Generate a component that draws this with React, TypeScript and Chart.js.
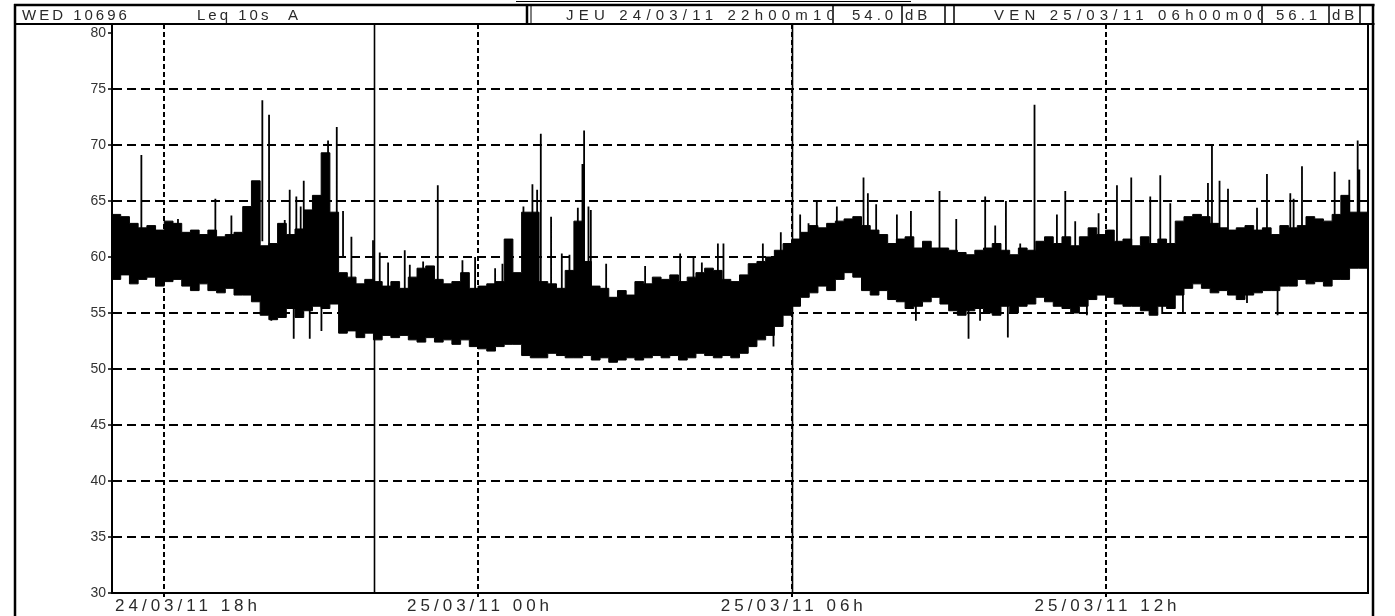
import React, { useEffect, useRef } from "react";
import { Chart, registerables } from "chart.js";

Chart.register(...registerables);

// ---- axes ----
const X_MIN = 0; // minutes after 24/03/11 17:00
const X_MAX = 1440;
const Y_MIN = 30;
const Y_MAX = 80.8;
const yTickValues = [30, 35, 40, 45, 50, 55, 60, 65, 70, 75, 80];
const xTickMinutes = [60, 420, 780, 1140];
const xTickLabels = ["24/03/11 18h", "25/03/11 00h", "25/03/11 06h", "25/03/11 12h"];
const cursorMinutes = [300.17, 780];

// ---- header ----
const headerId = "WED 10696";
const headerMeasure = "Leq 10s";
const headerWeighting = "A";
const cursor1Label = "JEU 24/03/11 22h00m10";
const cursor1Value = "54.0";
const cursor2Label = "VEN 25/03/11 06h00m00";
const cursor2Value = "56.1";
const unitLabel = "dB";

// ---- Leq 10s trace, 10-minute bins: upper / lower edge of the dense band (dB) ----
const bandHigh = [
  63.2, 63.8, 63.6, 63.0, 62.6, 62.8, 62.4, 63.2, 63.0, 62.2,
  62.4, 62.0, 62.4, 61.8, 62.0, 62.2, 64.5, 66.8, 61.0, 61.2,
  63.0, 62.0, 62.5, 64.2, 65.5, 69.3, 64.0, 58.6, 58.2, 57.6,
  58.0, 57.8, 57.4, 57.8, 57.2, 58.2,
  59.0, 59.2, 58.0, 57.6, 57.8, 58.6, 57.2, 57.4, 57.6, 57.8,
  61.6, 58.6, 64.0, 64.0, 57.8, 57.6, 57.2, 58.8, 63.2, 59.6,
  57.4, 57.2, 56.4, 57.0, 56.6, 57.8, 57.6, 58.2, 58.0, 58.4,
  57.8, 58.2, 58.6, 59.0, 58.8, 58.0,
  57.8, 58.4, 59.4, 59.6, 60.0, 60.6, 61.2, 61.6, 62.2, 62.8,
  62.6, 63.0, 63.2, 63.4, 63.6, 62.8, 62.4, 62.0, 61.2, 61.6,
  61.8, 60.8, 61.4, 60.8, 60.8, 60.6, 60.4, 60.2, 60.6, 60.8,
  61.2, 60.6, 60.2, 60.8, 60.6, 61.4,
  61.8, 61.2, 61.8, 61.0, 61.8, 62.6, 62.0, 62.4, 61.4, 61.6,
  61.0, 61.8, 61.2, 61.6, 61.2, 63.2, 63.6, 63.8, 63.6, 63.0,
  62.6, 62.4, 62.6, 62.8, 62.4, 62.6, 62.0, 62.8, 62.6, 62.8,
  63.6, 63.4, 63.2, 63.8, 65.5, 64.0,
];
const bandLow = [
  58.5, 58.0, 58.4, 57.6, 58.0, 58.2, 57.4, 57.8, 58.0, 57.4,
  57.0, 57.6, 57.0, 56.8, 57.2, 56.6, 56.6, 56.0, 54.8, 54.4,
  54.6, 55.4, 54.6, 55.2, 55.6, 55.4, 55.8, 53.2, 53.4, 52.8,
  53.2, 52.6, 53.0, 52.8, 53.0, 52.6,
  52.4, 52.8, 52.4, 52.6, 52.2, 52.6, 52.0, 51.8, 51.6, 52.0,
  52.2, 52.2, 51.2, 51.0, 51.0, 51.4, 51.2, 51.0, 51.0, 51.2,
  50.8, 51.0, 50.6, 50.8, 51.0, 50.8, 51.0, 51.2, 51.0, 51.2,
  50.8, 51.0, 51.4, 51.2, 51.0, 51.2,
  51.0, 51.4, 52.0, 52.6, 53.0, 53.8, 54.8, 55.6, 56.4, 56.8,
  57.4, 57.0, 58.0, 58.6, 58.2, 57.0, 56.6, 57.0, 56.2, 56.0,
  55.4, 55.6, 56.0, 56.4, 55.8, 55.2, 54.8, 55.2, 55.4, 55.0,
  54.8, 55.6, 55.0, 55.6, 55.8, 56.4,
  56.0, 55.6, 55.4, 55.0, 55.6, 56.2, 56.6, 56.4, 55.8, 55.6,
  55.6, 55.2, 54.8, 55.6, 55.4, 56.6, 57.2, 57.6, 57.2, 56.8,
  57.0, 56.6, 56.2, 56.6, 56.8, 57.0, 57.0, 57.4, 57.4, 58.0,
  57.6, 57.8, 57.4, 58.0, 58.0, 59.0,
];
const BIN_MINUTES = 10;

// ---- isolated peaks (minute, dB) ----
const peakMinutes = [
  33.7, 75.7, 118.6, 137, 172.5, 180.2, 191.7, 198.2, 203.9, 211.5, 216.5, 220, 234.5, 247.9, 257.9,
  265.1, 274.7, 299.5, 307.2, 316.8, 335.9, 341.7, 357,
  373.8, 402.1, 416.6, 439.6, 448, 456.8, 472.1, 482.4, 487.8, 492, 503.8, 516.1, 524.9, 534.5,
  539.8, 541.7, 546.7, 549.4, 567, 611.7, 651.9, 667.2, 676.8, 695.2, 701.6,
  746.8, 767.4, 789.6, 799.2, 808.7, 831.7, 862.3, 867.3, 876.8, 900.6, 916.7, 949.5, 968.7,
  1001.9, 1013.4, 1025.7, 1042.1, 1058.5, 1084.2,
  1093.8, 1105.2, 1132, 1153.1, 1169.5, 1191.3, 1202.8, 1214.3, 1257.5, 1262.1, 1270.8, 1280.5,
  1313.8, 1325.2, 1352, 1355.8, 1365.4, 1402.9, 1419.7, 1429.3, 1431.2,
];
const peakValues = [
  69.1, 63.4, 65.2, 63.7, 74.0, 72.7, 62.7, 63.3, 66.0, 65.4, 64.5, 66.8, 65.0, 70.4, 71.6,
  64.1, 61.8, 61.5, 60.4, 59.5, 60.6, 59.3, 59.6,
  66.4, 59.7, 60.0, 59.0, 59.4, 59.2, 64.5, 66.5, 66.0, 71.0, 63.6, 60.3, 60.2, 64.4,
  68.3, 71.3, 64.5, 64.2, 59.4, 59.2, 60.3, 59.9, 59.5, 61.2, 61.2,
  61.2, 62.2, 63.8, 63.0, 65.0, 64.5, 67.1, 65.7, 64.7, 63.8, 64.1, 65.9, 63.4,
  65.4, 62.8, 65.0, 61.2, 73.6, 63.8,
  65.9, 63.2, 63.9, 66.4, 67.1, 65.4, 67.3, 64.8, 66.6, 69.9, 66.8, 66.1,
  64.4, 67.4, 65.7, 65.2, 68.1, 67.6, 66.9, 70.4, 67.8,
];

// ---- isolated dips (minute, dB) ----
const dipMinutes = [182.8, 208.5, 226.9, 240.3, 759, 922.4, 982.8, 996, 1027.9, 1118.6, 1205, 1228.8, 1302.3, 1337.4];
const dipValues = [54.3, 52.7, 52.7, 53.4, 52.0, 54.3, 52.7, 54.3, 52.8, 54.8, 54.9, 54.9, 55.9, 54.8];

const FONT = '"Liberation Sans", Arial, sans-serif';

function binOf(t: number) {
  return Math.max(0, Math.min(bandHigh.length - 1, Math.floor(t / BIN_MINUTES)));
}

const framePlugin = {
  id: "frame",
  afterDatasetsDraw(chart: any) {
    const { ctx, chartArea: ca } = chart;
    const xs = chart.scales.x;
    ctx.save();
    ctx.strokeStyle = "#000";
    ctx.lineCap = "butt";
    ctx.lineWidth = 1.6;
    cursorMinutes.forEach((m) => {
      const px = Math.round(xs.getPixelForValue(m)) + 0.5;
      ctx.beginPath();
      ctx.moveTo(px, ca.top);
      ctx.lineTo(px, ca.bottom);
      ctx.stroke();
    });
    ctx.restore();
  },
  afterDraw(chart: any) {
    const { ctx, chartArea: ca } = chart;
    const xs = chart.scales.x;
    const line = (x1: number, y1: number, x2: number, y2: number, w: number) => {
      ctx.lineWidth = w;
      ctx.beginPath();
      ctx.moveTo(x1, y1);
      ctx.lineTo(x2, y2);
      ctx.stroke();
    };
    ctx.save();
    ctx.strokeStyle = "#000";
    ctx.fillStyle = "#000";
    // plot right edge and outer frame
    line(ca.right + 1, ca.top, ca.right + 1, ca.bottom + 1, 2);
    line(15, 4, 15, 616, 2.5);
    line(1373, 4, 1373, 616, 2.5);
    line(14, 5, 1374.5, 5, 2.5);
    line(14, ca.top, 1374.5, ca.top, 2);
    line(516, 1.5, 911, 1.5, 1);
    // header box separators
    line(527, 5, 527, ca.top, 2.5);
    line(531, 5, 531, ca.top, 1);
    [833, 902, 945, 954, 1262, 1329, 1360].forEach((s) => line(s, 5, s, ca.top, 1.5));

    ctx.fillStyle = "#2a2a2a";
    ctx.font = `15px ${FONT}`;
    ctx.textBaseline = "alphabetic";
    const hy = 20;
    const clipText = (txt: string, x: number, left: number, right: number, spacing: number) => {
      ctx.save();
      (ctx as any).letterSpacing = `${spacing}px`;
      ctx.beginPath();
      ctx.rect(left, 5, right - left, ca.top - 5);
      ctx.clip();
      ctx.fillText(txt, x, hy);
      ctx.restore();
    };
    clipText(headerId, 22, 16, 526, 3);
    clipText(headerMeasure, 197, 16, 526, 3);
    clipText(headerWeighting, 288, 16, 526, 3);
    clipText(cursor1Label, 566, 532, 832, 5.2);
    clipText(cursor1Value, 852, 834, 901, 4);
    clipText(unitLabel, 905, 903, 944, 4);
    clipText(cursor2Label, 994, 955, 1261, 5.2);
    clipText(cursor2Value, 1276, 1263, 1328, 4);
    clipText(unitLabel, 1332, 1330, 1359, 4);

    // x tick labels
    ctx.font = `17px ${FONT}`;
    (ctx as any).letterSpacing = "4px";
    ctx.textBaseline = "middle";
    xTickLabels.forEach((lab, i) => {
      const px = xs.getPixelForValue(xTickMinutes[i]);
      const w = ctx.measureText(lab).width - 4;
      let left = px - w / 2;
      if (left < ca.left + 3) left = ca.left + 3;
      ctx.fillText(lab, left, ca.bottom + 13);
    });
    ctx.restore();
  },
};

export default function App() {
  const ref = useRef<HTMLCanvasElement | null>(null);
  useEffect(() => {
    const canvas = ref.current;
    if (!canvas) return;
    const highPts = bandHigh.map((v, i) => ({ x: BIN_MINUTES * i, y: v }));
    highPts.push({ x: X_MAX, y: bandHigh[bandHigh.length - 1] });
    const lowPts = bandLow.map((v, i) => ({ x: BIN_MINUTES * i, y: v }));
    lowPts.push({ x: X_MAX, y: bandLow[bandLow.length - 1] });
    const peakPts: any[] = [];
    peakMinutes.forEach((t, i) => {
      const b = binOf(t);
      peakPts.push({ x: t, y: (bandHigh[b] + bandLow[b]) / 2 }, { x: t, y: peakValues[i] }, { x: t, y: null });
    });
    const dipPts: any[] = [];
    dipMinutes.forEach((t, i) => {
      const b = binOf(t);
      dipPts.push({ x: t, y: (bandHigh[b] + bandLow[b]) / 2 }, { x: t, y: dipValues[i] }, { x: t, y: null });
    });
    const gridColor = (ctx: any) => {
      const v = ctx.tick ? ctx.tick.value : null;
      return v === 30 || v === 80 ? "rgba(0,0,0,0)" : "#000";
    };
    const chart = new Chart(canvas, {
      type: "line",
      data: {
        datasets: [
          { data: highPts, borderColor: "#000", backgroundColor: "#000", borderWidth: 1, pointRadius: 0, fill: "+1", stepped: "after" },
          { data: lowPts, borderColor: "#000", borderWidth: 1, pointRadius: 0, fill: false, stepped: "after" },
          { data: peakPts, borderColor: "#000", borderWidth: 1.8, pointRadius: 0, fill: false, spanGaps: false },
          { data: dipPts, borderColor: "#000", borderWidth: 1.8, pointRadius: 0, fill: false, spanGaps: false },
        ] as any,
      },
      options: {
        animation: false,
        responsive: false,
        devicePixelRatio: 1,
        events: [],
        layout: { padding: { left: 52, right: 28, top: 24, bottom: 0 } },
        plugins: { legend: { display: false }, tooltip: { enabled: false }, title: { display: false } },
        elements: { line: { borderCapStyle: "butt" } },
        scales: {
          x: {
            type: "linear",
            min: X_MIN,
            max: X_MAX,
            afterBuildTicks: (s: any) => {
              s.ticks = xTickMinutes.map((v) => ({ value: v }));
            },
            afterFit: (s: any) => {
              s.height = 23;
            },
            ticks: { display: false },
            grid: { color: "#000", lineWidth: 2, drawTicks: true, tickLength: 4, tickColor: "#000" },
            border: { display: true, color: "#000", width: 2, dash: [5, 3] },
          },
          y: {
            type: "linear",
            min: Y_MIN,
            max: Y_MAX,
            afterBuildTicks: (s: any) => {
              s.ticks = yTickValues.map((v) => ({ value: v }));
            },
            afterFit: (s: any) => {
              s.width = 60;
            },
            ticks: { font: { family: FONT, size: 14 }, color: "#333", padding: 2 },
            grid: { color: gridColor, lineWidth: 2, tickLength: 4, tickColor: "#000", tickWidth: 1.5 },
            border: { display: true, color: "#000", width: 2, dash: [9, 5] },
          },
        },
      } as any,
      plugins: [framePlugin],
    });
    return () => chart.destroy();
  }, []);
  return (
    <div style={{ position: "absolute", left: 0, top: 0, width: 1395, height: 616, background: "#fff" }}>
      <canvas ref={ref} width={1395} height={616} style={{ display: "block" }} />
    </div>
  );
}
